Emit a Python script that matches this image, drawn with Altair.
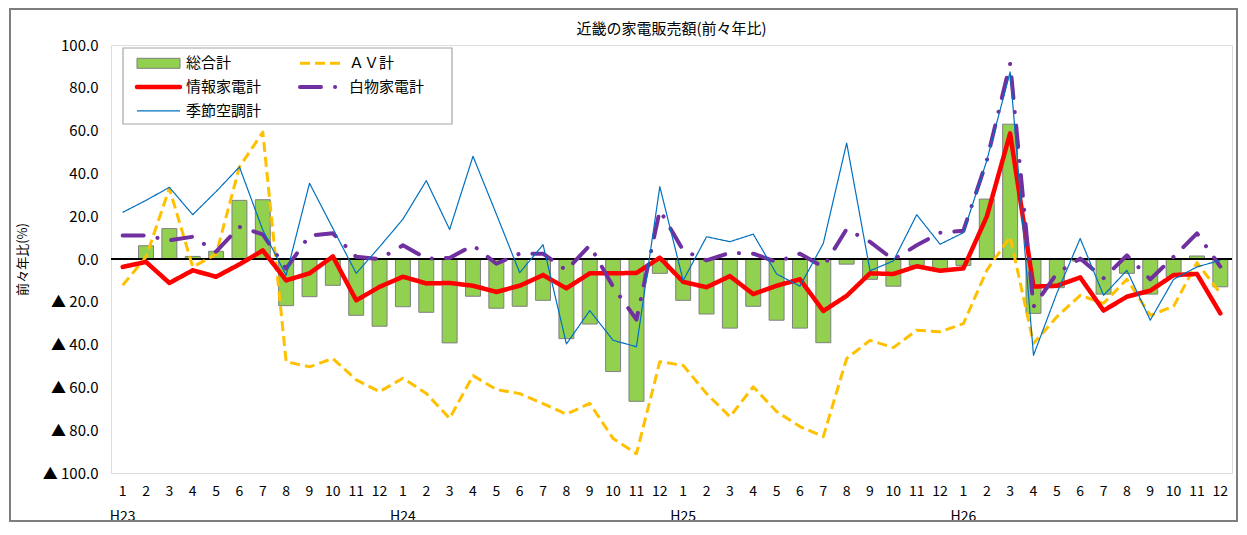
import json
import altair as alt
import pandas as pd

years = ["H23", "H24", "H25", "H26"]
months = ["1", "2", "3", "4", "5", "6", "7", "8", "9", "10", "11", "12"]

series_names = ["総合計", "ＡＶ計", "情報家電計", "白物家電計", "季節空調計"]
series_colors = ["#92d050", "#ffc000", "#ff0000", "#7030a0", "#0070c0"]
series_widths = [9, 3, 4.5, 4, 1.2]
series_dashes = [[1, 0], [10, 5], [1, 0], [21, 14, 0.1, 14], [1, 0]]
series_caps = ["butt", "butt", "round", "round", "butt"]

total = [0.0, 6.2, 14.2, 1.2, 3.6, 27.4, 27.7, -21.8, -17.6, -12.3, -26.3, -31.4,
         -22.3, -24.9, -39.2, -17.4, -23.0, -22.1, -19.3, -37.2, -30.4, -52.6, -66.5, -6.7,
         -19.3, -25.7, -32.3, -22.1, -28.6, -32.3, -39.1, -2.4, -9.5, -12.7, -3.0, -4.8,
         -3.0, 28.0, 63.0, -25.4, -13.4, -1.0, -16.4, -6.7, -16.4, -8.3, 1.4, -13.0]
av = [-12.3, 1.0, 33.0, -3.7, 2.2, 43.0, 59.3, -48.0, -50.4, -46.5, -56.5, -62.0,
      -55.7, -62.8, -74.5, -54.5, -61.0, -62.9, -67.6, -72.5, -67.5, -83.9, -91.0, -48.0,
      -49.7, -62.9, -73.7, -59.7, -71.3, -78.3, -83.0, -46.5, -38.0, -41.4, -33.3, -34.0,
      -30.2, -5.3, 10.4, -39.4, -27.0, -17.0, -20.7, -9.5, -26.3, -22.1, -1.7, -16.0]
info = [-3.7, -1.4, -11.2, -5.3, -8.3, -2.5, 4.0, -10.0, -6.7, 1.2, -19.3, -13.0,
        -8.3, -11.4, -11.2, -12.5, -15.4, -12.5, -7.5, -13.7, -6.7, -6.7, -6.5, 0.6,
        -10.7, -13.2, -8.0, -16.4, -12.5, -9.5, -24.3, -17.2, -6.7, -7.0, -3.4, -5.5,
        -4.4, 19.8, 58.7, -12.9, -12.5, -8.6, -24.1, -17.6, -14.8, -7.5, -7.0, -25.4]
white = [11.0, 11.0, 8.7, 10.4, 3.4, 15.0, 11.5, -4.5, 11.0, 12.0, 1.0, 0.0,
         6.4, 0.2, 0.5, 6.4, -2.2, 2.5, 2.5, -5.3, 6.4, -13.0, -28.3, 22.8,
         4.0, -0.6, 2.9, 2.5, -1.4, 2.5, -3.7, 14.0, 8.0, -0.3, 6.4, 12.3,
         13.2, 46.0, 91.3, -22.3, -6.7, 0.2, -9.0, 1.7, -9.5, 1.0, 12.0, -3.6]
season = [21.8, 27.4, 33.5, 20.7, 31.5, 43.0, 13.5, -7.6, 35.4, 14.3, -6.7, 5.7,
          18.6, 36.6, 13.8, 48.0, 21.0, -6.4, 6.7, -39.7, -24.1, -38.0, -41.0, 33.8,
          -10.1, 10.4, 8.1, 11.6, -7.0, -12.7, 7.3, 54.2, -5.5, -0.9, 20.7, 6.9,
          12.3, 46.0, 87.4, -45.0, -16.0, 9.6, -17.0, -5.3, -28.6, -9.5, -3.7, -0.6]

n = len(years) * len(months)
idx = list(range(n))
tick_labels = []
for y in years:
    for j, m in enumerate(months):
        tick_labels.append([m, y] if j == 0 else m)

bars_df = pd.DataFrame({"idx": idx, "value": total, "series": series_names[0]})
lines_df = pd.concat([
    pd.DataFrame({"idx": idx, "value": vals, "series": name})
    for name, vals in zip(series_names[1:], [av, info, white, season])
])

FONT = "Noto Sans CJK JP"

x_enc = alt.X("idx:O",
              scale=alt.Scale(paddingInner=0.36, paddingOuter=0.18),
              axis=alt.Axis(title=None, labelAngle=0, domain=False, ticks=False, grid=False,
                            labelFont=FONT, labelFontSize=14, labelColor="#000000",
                            labelPadding=11, labelLineHeight=25,
                            labelExpr=json.dumps(tick_labels, ensure_ascii=False) + "[datum.value]"))
y_scale = alt.Scale(domain=[-100, 100], nice=False, zero=False)
y_axis = alt.Axis(title="前々年比(%)", values=list(range(-100, 101, 20)),
                  domain=False, ticks=False, grid=False,
                  labelFont=FONT, labelFontSize=15, labelColor="#000000", labelPadding=13,
                  labelExpr="datum.value < 0 ? '▲ ' + format(-datum.value, '.1f') : format(datum.value, '.1f')",
                  titleFont=FONT, titleFontSize=13, titleFontWeight="normal", titleColor="#000000",
                  titleX=-89, titleY=214, titleAlign="center", titleBaseline="middle", titleAngle=270)

color_scale = alt.Scale(domain=series_names, range=series_colors)
width_scale = alt.Scale(type="ordinal", domain=series_names, range=series_widths)
dash_scale = alt.Scale(domain=series_names, range=series_dashes)

frame = alt.Chart(bars_df).mark_rect(filled=False, stroke="#7f7f7f", strokeWidth=1.5).encode(
    x=alt.value(-101), x2=alt.value(1126), y=alt.value(-36), y2=alt.value(476))

bars = alt.Chart(bars_df).mark_bar(stroke="#7f7f7f", strokeWidth=1).encode(
    x=x_enc,
    y=alt.Y("value:Q", scale=y_scale, axis=y_axis),
    fill=alt.Fill("series:N", scale=color_scale, legend=None),
)

def line_layer(name, cap):
    return alt.Chart(lines_df).transform_filter(alt.datum.series == name).mark_line(
        strokeCap=cap, strokeJoin="round").encode(
        x=x_enc,
        y=alt.Y("value:Q", scale=y_scale, axis=y_axis),
        color=alt.Color("series:N", scale=color_scale, legend=None),
        strokeWidth=alt.StrokeWidth("series:N", scale=width_scale, legend=None),
        strokeDash=alt.StrokeDash("series:N", scale=dash_scale, legend=None),
    )

zero = alt.Chart(bars_df).mark_rule(color="#000000", strokeWidth=2).encode(y=alt.datum(0))

# legend (drawn as a boxed key in the plot's top-left corner)
legend_box = alt.Chart(bars_df.head(1)).mark_rect(
    fill="#ffffff", stroke="#a6a6a6", strokeWidth=1.2).encode(
    x=alt.value(12), x2=alt.value(341), y=alt.value(3), y2=alt.value(79))
legend_layers = [legend_box]
for i, name in enumerate(series_names):
    col, row = i % 2, i // 2
    sx = 26 + col * 163
    sy = 18.3 + row * 23.8
    one = pd.DataFrame({"series": [name]})
    if i == 0:
        sym = alt.Chart(one).mark_rect(fill=series_colors[i], stroke="#7f7f7f", strokeWidth=1).encode(
            x=alt.value(sx), x2=alt.value(sx + 43), y=alt.value(sy - 5), y2=alt.value(sy + 5))
    else:
        sym = alt.Chart(one).mark_rule(color=series_colors[i], strokeWidth=series_widths[i],
                                       strokeDash=series_dashes[i], strokeCap=series_caps[i]).encode(
            x=alt.value(sx), x2=alt.value(sx + 43), y=alt.value(sy))
    lab = alt.Chart(one).mark_text(align="left", baseline="middle", font=FONT, fontSize=15,
                                   color="#000000").encode(
        x=alt.value(sx + 49), y=alt.value(sy), text=alt.Text("series:N"))
    legend_layers += [sym, lab]

chart = alt.layer(
    frame, bars, zero,
    line_layer("ＡＶ計", "butt"),
    line_layer("情報家電計", "round"),
    line_layer("白物家電計", "round"),
    line_layer("季節空調計", "butt"),
    *legend_layers,
).properties(
    width=1121, height=428,
    title=alt.TitleParams("近畿の家電販売額(前々年比)", font=FONT, fontSize=15,
                          fontWeight="normal", color="#000000", offset=0, dy=29),
    autosize=alt.AutoSizeParams(type="none"),
    padding={"left": 103, "top": 37, "right": 7, "bottom": 50},
).configure_view(stroke="#595959", strokeWidth=1.5).configure(background="#ffffff")

chart.save("out.html", embed_options={"renderer": "svg", "actions": False})
